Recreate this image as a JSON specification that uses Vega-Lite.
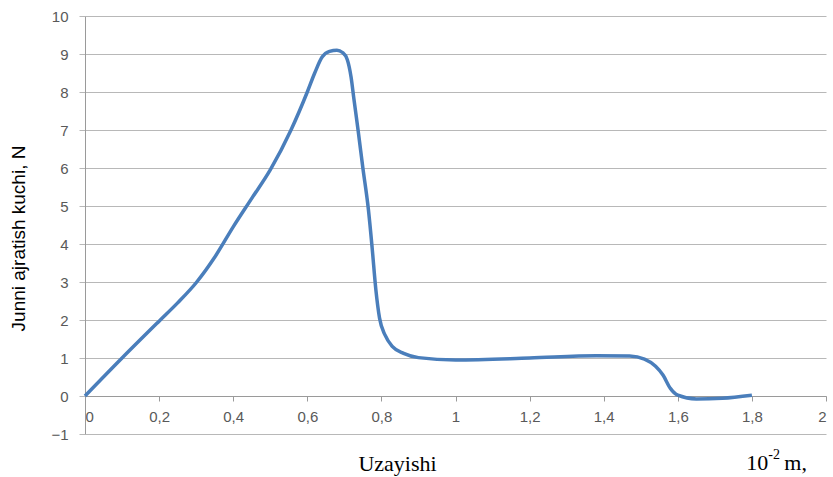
{
  "$schema": "https://vega.github.io/schema/vega-lite/v6.json",
  "width": 741,
  "height": 418,
  "autosize": {"type": "none"},
  "padding": {"left": 85, "top": 16, "right": 7, "bottom": 43},
  "background": "white",
  "config": {"view": {"stroke": null}},
  "resolve": {"axis": {"x": "independent", "y": "independent"}},
  "layer": [
    {
      "data": {"values": [
        {"x": 0, "y": 0},
        {"x": 0.1, "y": 1.0},
        {"x": 0.2, "y": 1.97},
        {"x": 0.25, "y": 2.45},
        {"x": 0.3, "y": 2.98},
        {"x": 0.35, "y": 3.65},
        {"x": 0.4, "y": 4.45},
        {"x": 0.45, "y": 5.2},
        {"x": 0.5, "y": 5.95},
        {"x": 0.556, "y": 7.0},
        {"x": 0.6, "y": 8.0},
        {"x": 0.62, "y": 8.5},
        {"x": 0.64, "y": 8.92},
        {"x": 0.66, "y": 9.07},
        {"x": 0.68, "y": 9.1},
        {"x": 0.695, "y": 9.04},
        {"x": 0.708, "y": 8.85},
        {"x": 0.718, "y": 8.4},
        {"x": 0.726, "y": 7.8},
        {"x": 0.737, "y": 7.0},
        {"x": 0.75, "y": 6.0},
        {"x": 0.765, "y": 4.9},
        {"x": 0.775, "y": 3.9},
        {"x": 0.785, "y": 2.8},
        {"x": 0.795, "y": 2.05},
        {"x": 0.81, "y": 1.6},
        {"x": 0.83, "y": 1.3},
        {"x": 0.86, "y": 1.12},
        {"x": 0.9, "y": 1.01},
        {"x": 1.0, "y": 0.95},
        {"x": 1.2, "y": 1.0},
        {"x": 1.38, "y": 1.06},
        {"x": 1.47, "y": 1.05},
        {"x": 1.51, "y": 0.97},
        {"x": 1.54, "y": 0.78},
        {"x": 1.56, "y": 0.55},
        {"x": 1.58, "y": 0.2},
        {"x": 1.6, "y": 0.02},
        {"x": 1.65, "y": -0.08},
        {"x": 1.72, "y": -0.06},
        {"x": 1.8, "y": 0.02}
      ]},
      "mark": {"type": "line", "interpolate": "monotone", "color": "#4a7ebb", "strokeWidth": 3.5, "clip": false},
      "encoding": {
        "x": {
          "field": "x", "type": "quantitative",
          "scale": {"domain": [0, 2], "nice": false},
          "axis": {
            "values": [0, 0.2, 0.4, 0.6, 0.8, 1, 1.2, 1.4, 1.6, 1.8, 2],
            "offset": -38,
            "grid": false,
            "labelOverlap": false,
            "domainColor": "#9a9a9a",
            "tickColor": "#9a9a9a",
            "tickSize": 5,
            "labelPadding": 8,
            "labelFont": "Liberation Sans",
            "labelFontSize": 15,
            "labelColor": "#595959",
            "labelExpr": "replace(format(datum.value, '.1~f'), '.', ',')",
            "title": "Uzayishi",
            "titleFont": "Liberation Serif",
            "titleFontSize": 22,
            "titleFontWeight": "normal",
            "titleColor": "#000000",
            "titleX": 312,
            "titleY": 67,
            "titleAnchor": null,
            "titleAlign": "center",
            "titleBaseline": "middle"
          }
        },
        "y": {
          "field": "y", "type": "quantitative",
          "scale": {"domain": [-1, 10], "nice": false},
          "axis": {
            "values": [-1, 0, 1, 2, 3, 4, 5, 6, 7, 8, 9, 10],
            "grid": true,
            "labelOverlap": false,
            "gridColor": "#b8b8b8",
            "gridWidth": 1,
            "domainColor": "#9a9a9a",
            "tickColor": "#b8b8b8",
            "tickSize": 6,
            "labelPadding": 11,
            "labelFont": "Liberation Sans",
            "labelFontSize": 15,
            "labelColor": "#595959",
            "title": "Junni ajratish kuchi, N",
            "titleFont": "Liberation Sans",
            "titleFontSize": 19,
            "titleFontWeight": "normal",
            "titleColor": "#000000",
            "titleX": -67,
            "titleY": 222,
            "titleAngle": -90,
            "titleAlign": "center",
            "titleBaseline": "middle"
          }
        }
      }
    },
    {
      "data": {"values": [{"unit": "10"}]},
      "mark": {"type": "text", "font": "Liberation Serif", "fontSize": 22, "fontWeight": "normal", "align": "left", "baseline": "middle", "fill": "#000000", "clip": false},
      "encoding": {"text": {"field": "unit"}, "x": {"datum": 1.785, "type": "quantitative", "axis": null}, "y": {"datum": -1.76, "type": "quantitative", "axis": null}}
    },
    {
      "data": {"values": [{"unit": "-2"}]},
      "mark": {"type": "text", "font": "Liberation Serif", "fontSize": 14, "fontWeight": "normal", "align": "left", "baseline": "middle", "dx": 22, "dy": -8, "fill": "#000000", "clip": false},
      "encoding": {"text": {"field": "unit"}, "x": {"datum": 1.785, "type": "quantitative", "axis": null}, "y": {"datum": -1.76, "type": "quantitative", "axis": null}}
    },
    {
      "data": {"values": [{"unit": "m,"}]},
      "mark": {"type": "text", "font": "Liberation Serif", "fontSize": 22, "fontWeight": "normal", "align": "left", "baseline": "middle", "dx": 38, "fill": "#000000", "clip": false},
      "encoding": {"text": {"field": "unit"}, "x": {"datum": 1.785, "type": "quantitative", "axis": null}, "y": {"datum": -1.76, "type": "quantitative", "axis": null}}
    }
  ]
}
